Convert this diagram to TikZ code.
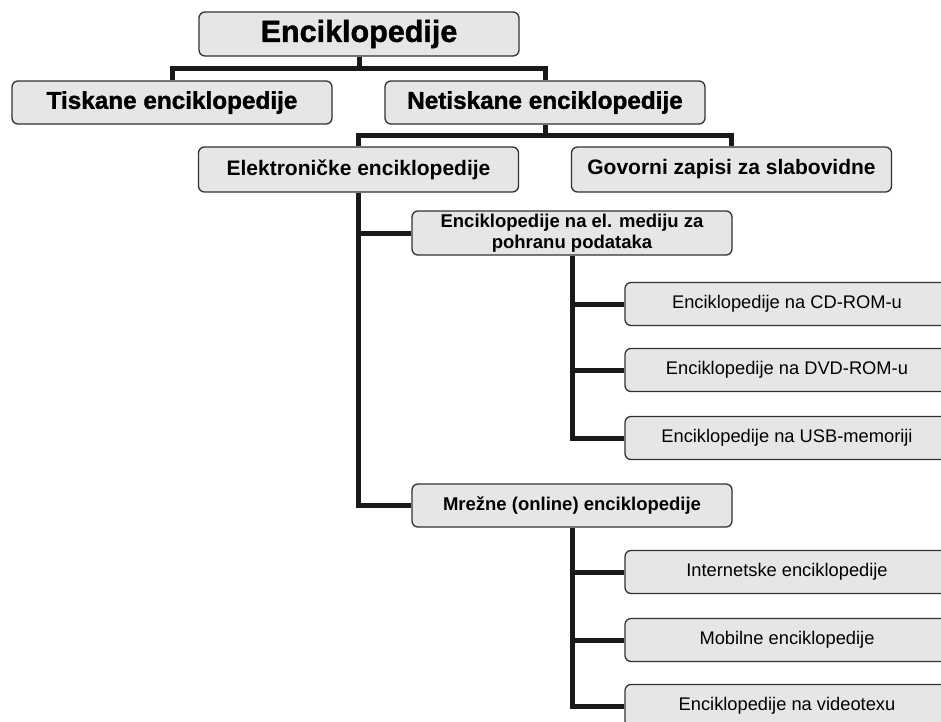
\documentclass[tikz,border=0pt]{standalone}
\usepackage{fontspec}
\setmainfont{Liberation Sans}
\newfontfamily\heavyfont{Liberation Sans}[BoldFeatures={FakeBold=1.4}]
\usepackage{tikz}
\usetikzlibrary{positioning}
\definecolor{boxfill}{RGB}{230,230,230}
\definecolor{boxline}{RGB}{50,50,50}
\definecolor{linkcol}{RGB}{25,25,25}

\begin{document}
\begin{tikzpicture}[
			x=1pt, y=-1pt,
			every node/.style={
				draw=boxline,
				fill=boxfill,
				line width=1.3pt,
				rounded corners=6pt,
				align=center,
				minimum width=320pt,
				minimum height=44pt,
				inner sep=2pt,
				on grid
			},
			topbox/.style={font=\fontsize{30.5pt}{34pt}\heavyfont\bfseries},
			mainbox/.style={font=\fontsize{24.3pt}{28pt}\heavyfont\bfseries, minimum height=43pt},
			subbox/.style={font=\fontsize{21pt}{24pt}\selectfont\bfseries, minimum height=45pt},
			midbox/.style={font=\fontsize{18.5pt}{21pt}\selectfont\bfseries, minimum height=43pt},
			leaf/.style={font=\fontsize{18.3pt}{21pt}\selectfont, minimum width=324pt, minimum height=43pt},
			link/.style={draw=linkcol, line width=5pt, line join=miter}
			]
			\useasboundingbox (0,0) rectangle (941,721);
			\clip (0,0) rectangle (941,721);
			
			% Level 1
			\node[topbox] (encik) at (359,34) {Enciklopedije};
			
			% Level 2
			\node[mainbox, below left=68.5pt and 187pt of encik] (tisk) {Tiskane enciklopedije};
			\node[mainbox, below right=68.5pt and 186pt of encik] (netisk) {Netiskane enciklopedije};
			
			% Level 3
			\node[subbox, below left=67pt and 186.5pt of netisk] (elek) {Elektroničke enciklopedije};
			\node[subbox, below right=67pt and 186.5pt of netisk] (govor) {Govorni zapisi za slabovidne};
			
			% Level 4 - under elektronicke
			\node[midbox, minimum height=44pt, below right=63.5pt and 213.5pt of elek] (medij) {Enciklopedije na el. mediju za\\pohranu podataka};
			\node[midbox, below=272.5pt of medij] (mreza) {Mrežne (online) enciklopedije};
			
			% Level 5 - storage media
			\node[leaf, below right=71pt and 215pt of medij] (cd) {Enciklopedije na CD-ROM-u};
			\node[leaf, below=66pt of cd] (dvd) {Enciklopedije na DVD-ROM-u};
			\node[leaf, below=68pt of dvd] (usb) {Enciklopedije na USB-memoriji};
			
			% Level 5 - online
			\node[leaf, below right=66.5pt and 215pt of mreza] (inet) {Internetske enciklopedije};
			\node[leaf, below=68pt of inet] (mob) {Mobilne enciklopedije};
			\node[leaf, below=66pt of mob] (vtx) {Enciklopedije na videotexu};
			
			% Connectors
			\draw[link] (encik.south) -- ++(0,12) -| (tisk.north);
			\draw[link] (encik.south) -- ++(0,12) -| (netisk.north);
			\draw[link] (netisk.south) -- ++(0,11) -| (elek.north);
			\draw[link] (netisk.south) -- ++(0,11) -| (govor.north);
			
			\draw[link] (elek.south) |- (medij.west);
			\draw[link] (elek.south) |- (mreza.west);
			
			\draw[link] (medij.south) |- (cd.west);
			\draw[link] (medij.south) |- (dvd.west);
			\draw[link] (medij.south) |- (usb.west);
			
			\draw[link] (mreza.south) |- (inet.west);
			\draw[link] (mreza.south) |- (mob.west);
			\draw[link] (mreza.south) |- (vtx.west);
			
		\end{tikzpicture}
\end{document}
